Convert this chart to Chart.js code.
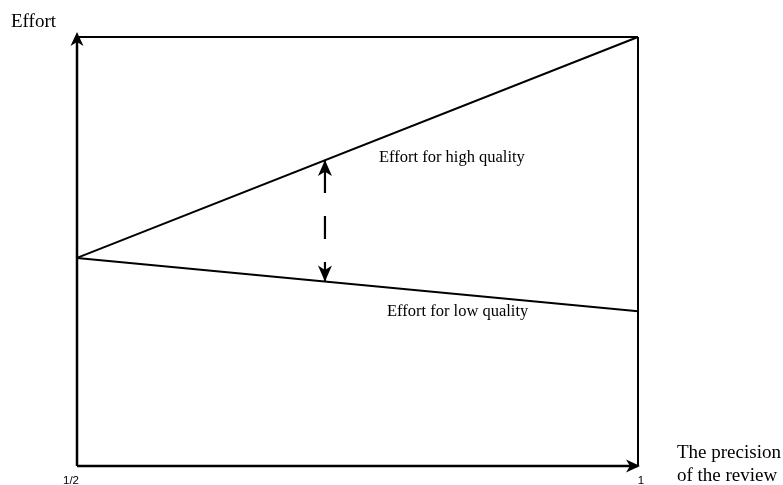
<!DOCTYPE html>
<html>
<head>
<meta charset="utf-8">
<style>
html,body{margin:0;padding:0;background:#fff;}
#wrap{width:783px;height:485px;position:relative;}
</style>
<script src="https://cdn.jsdelivr.net/npm/chart.js@4.4.0/dist/chart.umd.min.js"></script>
</head>
<body>
<div id="wrap"><canvas id="c" width="783" height="485"></canvas></div>
<script>
// Data
const precision = [0.5, 1];
const tickLabels = ["1/2", "1"];
const effortHigh = [4.85, 10];
const effortLow = [4.85, 3.61];
const arrowX = 0.721;
const arrowTop = 7.13;
const arrowBottom = 4.30;
const yMin = 0, yMax = 10;
const yAxisLabel = "Effort";
const xAxisLabel = ["The precision", "of the review"];
const highLabel = "Effort for high quality";
const lowLabel = "Effort for low quality";

const pts = (xs, ys) => xs.map((x, i) => ({x: x, y: ys[i]}));

function arrowHead(ctx, x, y, dir, L, W) {
  ctx.save();
  ctx.translate(x, y);
  const rot = {up: 0, right: Math.PI / 2, down: Math.PI}[dir];
  ctx.rotate(rot);
  ctx.beginPath();
  ctx.moveTo(0, 0);
  ctx.lineTo(W, L);
  ctx.lineTo(0, L * 0.72);
  ctx.lineTo(-W, L);
  ctx.closePath();
  ctx.fillStyle = '#000';
  ctx.fill();
  ctx.restore();
}

const decor = {
  id: 'decor',
  afterDatasetsDraw(chart) {
    const ctx = chart.ctx;
    const xs = chart.scales.x, ys = chart.scales.y;
    const x0 = xs.getPixelForValue(precision[0]);
    const x1 = xs.getPixelForValue(precision[1]);
    const yb = ys.getPixelForValue(yMin);
    const yt = ys.getPixelForValue(yMax);
    arrowHead(ctx, x0, yt - 5, 'up', 14, 6.5);
    arrowHead(ctx, x1 + 2, yb, 'right', 14, 6.5);
    const ax = xs.getPixelForValue(arrowX);
    arrowHead(ctx, ax, ys.getPixelForValue(arrowTop), 'up', 16, 7);
    arrowHead(ctx, ax, ys.getPixelForValue(arrowBottom), 'down', 16, 7);

    ctx.save();
    ctx.fillStyle = '#000';
    ctx.textBaseline = 'alphabetic';
    ctx.textAlign = 'left';
    ctx.font = '19px "Liberation Serif", "Times New Roman", serif';
    ctx.fillText(yAxisLabel, 11, 27);
    ctx.fillText(xAxisLabel[0], x1 + 39, 458);
    ctx.fillText(xAxisLabel[1], x1 + 39, 481);
    ctx.font = '16.5px "Liberation Serif", "Times New Roman", serif';
    ctx.fillText(highLabel, ax + 54, 162);
    ctx.fillText(lowLabel, ax + 62, 316);
    ctx.font = '11.5px "Liberation Sans", Arial, sans-serif';
    ctx.textAlign = 'center';
    ctx.fillText(tickLabels[0], x0 - 6, 484);
    ctx.fillText(tickLabels[1], x1 + 3, 484);
    ctx.restore();
  }
};

const black = '#000';
const line = (data, w, extra) => Object.assign({
  type: 'line', data: data, borderColor: black, borderWidth: w,
  pointRadius: 0, fill: false, tension: 0
}, extra || {});

new Chart(document.getElementById('c'), {
  type: 'line',
  data: {
    datasets: [
      line(pts(precision, effortHigh), 2),
      line(pts(precision, effortLow), 2),
      line(pts(precision, [yMax, yMax]), 2),
      line(pts([precision[1], precision[1]], [yMin, yMax]), 2),
      line(pts([precision[0], precision[0]], [yMin, yMax]), 2.5),
      line(pts([precision[0], precision[1]], [yMin, yMin]), 2.5),
      line(pts([arrowX, arrowX], [arrowTop, arrowBottom]), 2.2, {borderDash: [33, 23, 23, 23]})
    ]
  },
  options: {
    responsive: false,
    animation: false,
    devicePixelRatio: 1,
    layout: {padding: {left: 77, right: 145, top: 37, bottom: 19}},
    plugins: {legend: {display: false}, tooltip: {enabled: false}},
    scales: {
      x: {type: 'linear', min: precision[0], max: precision[1], display: false},
      y: {type: 'linear', min: yMin, max: yMax, display: false}
    },
    clip: false
  },
  plugins: [decor]
});
</script>
</body>
</html>
